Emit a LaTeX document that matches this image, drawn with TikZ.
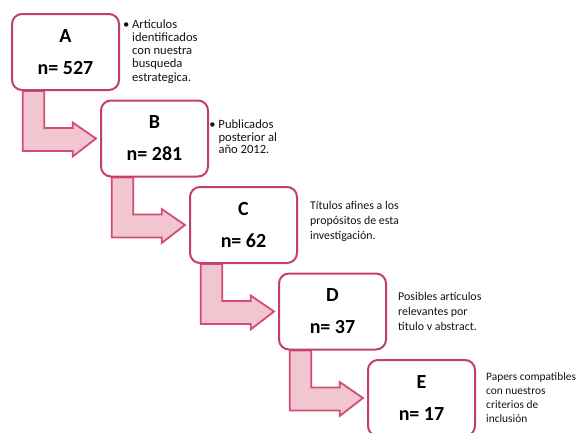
\documentclass[tikz,border=0pt]{standalone}
\usepackage{fontspec}
\setmainfont{Carlito}
\usetikzlibrary{calc}
\pgfdeclarelayer{background}
\pgfsetlayers{background,main}
\definecolor{boxline}{HTML}{C23E6C}
\definecolor{arrline}{HTML}{D24C77}
\definecolor{arrfill}{HTML}{F2C6D0}
\definecolor{txt}{HTML}{141414}
\tikzset{
  stagebox/.style={draw=boxline, line width=2pt, fill=white, rounded corners=10pt,
    minimum width=107pt, minimum height=76pt, anchor=north west, align=center,
    inner sep=0pt, font=\bfseries\fontsize{20}{32}\selectfont, text=black},
  bentarrow/.style={draw=arrline, line width=1.8pt, fill=arrfill, line join=miter},
  sidetext/.style={anchor=base west, inner sep=0pt, text=txt}
}
\newcommand{\sidetab}[3]{{\fontsize{#1}{#2}\selectfont\begin{tabular}[t]{@{}l@{}}#3\end{tabular}}}
\begin{document}
\begin{tikzpicture}[x=1pt,y=-1pt]
\useasboundingbox (0,0) rectangle (579,432);
\clip (0,0) rectangle (579,432);
\path
  node[stagebox] (A) at (11,13) {A\\n= 527}
  node[stagebox] (B) at (100,99.5) {B\\n= 281}
  node[stagebox] (C) at (189,186) {C\\n= 62}
  node[stagebox] (D) at (278,272.5) {D\\n= 37}
  node[stagebox] (E) at (367,359) {E\\n= 17};
\begin{pgfonlayer}{background}
\foreach \s/\t in {A/B,B/C,C/D,D/E}{
  \draw[bentarrow]
    ($(\s.south west)+(11.7,0)$) -- ($(\s.south west)+(33.3,0)$)
    -- ($(\s.south west)+(33.3,37)$) -- ($(\s.south west)+(61.7,37)$)
    -- ($(\s.south west)+(61.7,31.5)$) -- ($(\t.west)+(-4,0)$)
    -- ($(\s.south west)+(61.7,65.5)$) -- ($(\s.south west)+(61.7,60)$)
    -- ($(\s.south west)+(11.7,60)$) -- cycle;
}
\end{pgfonlayer}
\node[sidetext] (tA) at (132,28.3) {\sidetab{12.6}{13.2}{\llap{\textbullet\ }Articulos\\identificados\\con nuestra\\busqueda\\estrategica.}};
\node[sidetext] (tB) at (218.3,128.3) {\sidetab{12.6}{12.8}{\llap{\textbullet\ }Publicados\\posterior al\\año 2012.}};
\node[sidetext] (tC) at (310,209) {\sidetab{11.9}{15}{Títulos afines a los\\propósitos de esta\\investigación.}};
\node[sidetext] (tD) at (398,300.7) {\sidetab{11.9}{15}{Posibles artículos\\relevantes por\\titulo v abstract.}};
\node[sidetext] (tE) at (486,380.7) {\sidetab{11.4}{14}{Papers compatibles\\con nuestros\\criterios de\\inclusión}};
\end{tikzpicture}
\end{document}
